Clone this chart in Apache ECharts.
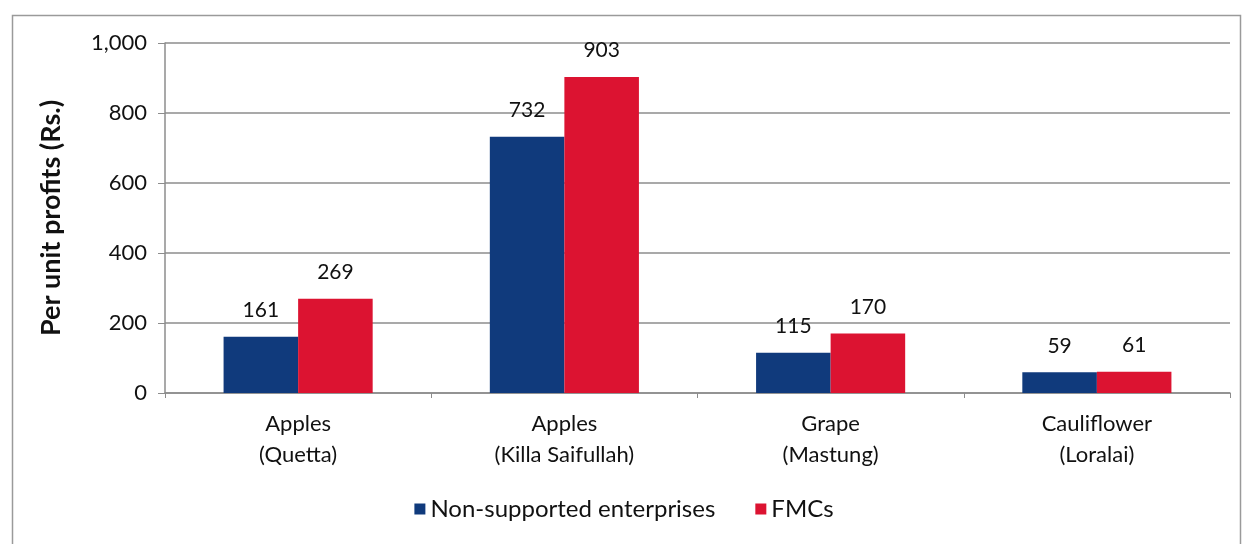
<!DOCTYPE html>
<html>
<head>
<meta charset="utf-8">
<script src="https://cdn.jsdelivr.net/npm/echarts@6/dist/echarts.min.js"></script>
<style>
html, body { margin: 0; padding: 0; background: #fff; }
#chart { width: 1248px; height: 544px; }
</style>
</head>
<body>
<div id="chart"></div>
<script>
// data
const categories = ['Apples\n(Quetta)', 'Apples\n(Killa Saifullah)', 'Grape\n(Mastung)', 'Cauliflower\n(Loralai)'];
const nonSupported = [161, 732, 115, 59];
const fmcs = [269, 903, 170, 61];
const seriesNames = ['Non-supported enterprises', 'FMCs'];

const font = 'Lato, "Open Sans", sans-serif';
const chart = echarts.init(document.getElementById('chart'));

const valueLabel = {
    show: true,
    position: 'top',
    distance: 16,
    color: '#111',
    fontSize: 21,
    fontFamily: font
};

chart.setOption({
    animation: false,
    graphic: [{
        type: 'rect',
        shape: { x: 12.5, y: 15.5, width: 1228, height: 600 },
        style: { fill: 'none', stroke: '#9a9a9a', lineWidth: 1.5 }
    }],
    grid: { left: 165, right: 18, top: 43, bottom: 151 },
    legend: {
        bottom: 18,
        left: 'center',
        itemWidth: 11,
        itemHeight: 11,
        itemGap: 40,
        icon: 'rect',
        textStyle: { fontSize: 24, color: '#111', fontFamily: font },
        data: seriesNames
    },
    xAxis: {
        type: 'category',
        data: categories,
        axisLine: { lineStyle: { color: '#8c8c8c', width: 1.5 } },
        axisTick: { show: true, length: 5, lineStyle: { color: '#8c8c8c' } },
        axisLabel: { fontSize: 22, color: '#111', fontFamily: font, lineHeight: 31, margin: 15 }
    },
    yAxis: {
        type: 'value',
        min: 0,
        max: 1000,
        interval: 200,
        name: 'Per unit profits (Rs.)',
        nameLocation: 'middle',
        nameGap: 100,
        nameTextStyle: { fontSize: 27, fontWeight: 'bold', color: '#111', fontFamily: font },
        axisLine: { show: true, lineStyle: { color: '#8c8c8c', width: 1.5 } },
        axisTick: { show: true, length: 7, lineStyle: { color: '#8c8c8c' } },
        splitLine: { lineStyle: { color: '#8c8c8c', width: 1.5 } },
        axisLabel: {
            fontSize: 22, color: '#111', fontFamily: font, margin: 18,
            formatter: v => v.toLocaleString('en-US')
        }
    },
    series: [
        {
            name: seriesNames[0],
            type: 'bar',
            data: nonSupported,
            barGap: '0%',
            barCategoryGap: '44%',
            itemStyle: { color: '#103a7c' },
            label: valueLabel
        },
        {
            name: seriesNames[1],
            type: 'bar',
            data: fmcs,
            itemStyle: { color: '#dc1331' },
            label: valueLabel
        }
    ]
});
</script>
</body>
</html>
